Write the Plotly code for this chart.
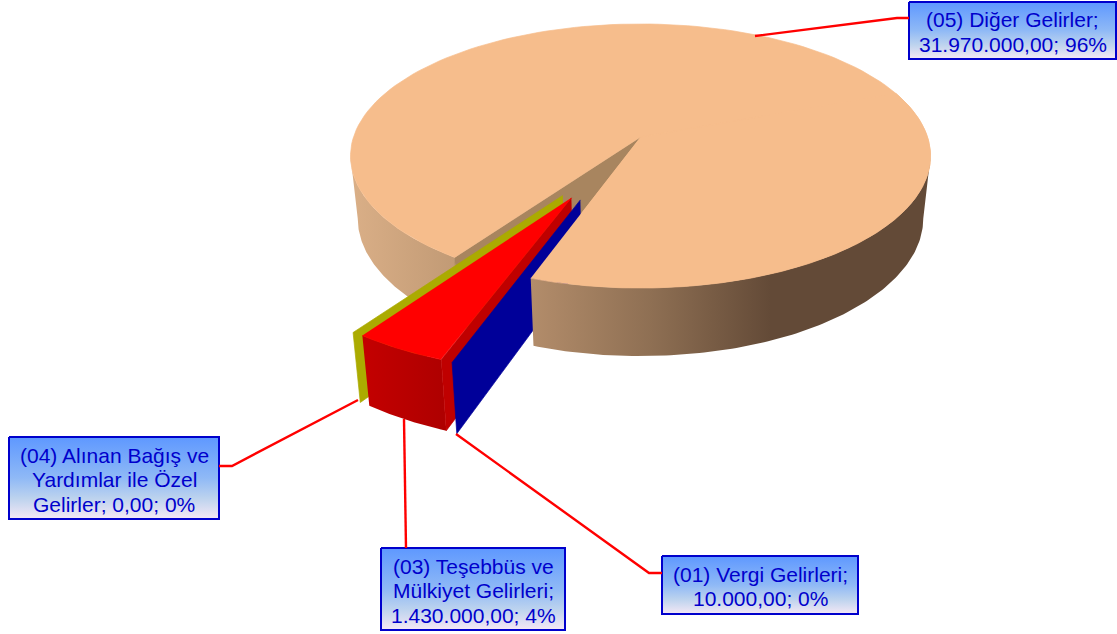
import numpy as np
import plotly.graph_objects as go

# Chart data
categories = ['(01) Vergi Gelirleri', '(03) Teşebbüs ve Mülkiyet Gelirleri',
              '(04) Alınan Bağış ve Yardımlar ile Özel Gelirler', '(05) Diğer Gelirler']
values = [10000.00, 1430000.00, 0.00, 31970000.00]
labels = [['(01) Vergi Gelirleri;', '10.000,00; 0%'],
          ['(03) Teşebbüs ve', 'Mülkiyet Gelirleri;', '1.430.000,00; 4%'],
          ['(04) Alınan Bağış ve', 'Yardımlar ile Özel', 'Gelirler; 0,00; 0%'],
          ['(05) Diğer Gelirler;', '31.970.000,00; 96%']]

# Perspective of the pie (pixels)
CX, CY, RX, RY, K, DEPTH, SHRINK = 640.5, 137, 287, 129.3, 0.144, 61.5, 0.975
START = 19.3
EXPLODE = 0.495
PULLED_R = 0.995
TANGENT = 81.7  # angle where the rim turns away from the viewer

TOP = '#F6BD8C'
GAP = '#A8855F'


def project(x, y, bottom=False):
    w = 1 - K * y
    if bottom:
        return CX + SHRINK * RX * x / w, CY + (SHRINK * RY * y + DEPTH) / w
    return CX + RX * x / w, CY + RY * y / w


def world(theta, ox=0.0, oy=0.0, r=1.0):
    t = np.radians(theta)
    return ox - r * np.sin(t), oy + r * np.cos(t)


def top_face(a, b, ox=0.0, oy=0.0, r=1.0):
    wx, wy = world(np.linspace(a, b, 160), ox, oy, r)
    return project(np.r_[ox, wx], np.r_[oy, wy])


def side_wall(theta, ox=0.0, oy=0.0, r=1.0):
    wx, wy = world(np.array([theta]), ox, oy, r)
    wx, wy = np.r_[ox, wx[0]], np.r_[oy, wy[0]]
    tx, ty = project(wx, wy)
    bx, by = project(wx, wy, bottom=True)
    return np.r_[tx, bx[::-1]], np.r_[ty, by[::-1]]


def outer_wall(a, b, ox=0.0, oy=0.0, r=1.0):
    wx, wy = world(np.linspace(a, b, 120), ox, oy, r)
    tx, ty = project(wx, wy)
    bx, by = project(wx, wy, bottom=True)
    return np.r_[tx, bx[::-1]], np.r_[ty, by[::-1]]


def poly(xy, color=None, gradient=None):
    if gradient:
        return go.Scatter(x=xy[0], y=xy[1], mode='lines', fill='toself', line=dict(width=0),
                          fillgradient=gradient, hoverinfo='skip', showlegend=False)
    return go.Scatter(x=xy[0], y=xy[1], mode='lines', fill='toself', fillcolor=color,
                      line=dict(color=color, width=0.7), hoverinfo='skip', showlegend=False)


def hgrad(x0, x1, stops):
    return dict(type='horizontal', start=x0, stop=x1, colorscale=stops)


# Slice angles
total = sum(values)
edges = START + np.r_[0, np.cumsum(values)] / total * 360
mid = (edges[1] + edges[2]) / 2
# thin slices are pulled out a little to each side of the red one
shift = [-3.8, 0, 3.8]
offsets = [world(np.array([mid + s])) for s in shift]
offsets = [(EXPLODE * (o[0][0]), EXPLODE * (o[1][0])) for o in offsets]

a5, b5 = edges[3], edges[4]
traces = [
    # body of the big slice, left part and the cut face
    poly(outer_wall(a5, TANGENT), gradient=hgrad(351, 456, [[0, '#DAAF87'], [1, '#C19A75']])),
    poly(side_wall(a5), GAP),
    poly(top_face(a5, b5), TOP),
]

# olive wall
ox, oy = offsets[2]
traces.append(poly(side_wall(edges[2], ox, oy, PULLED_R), '#ABAB00'))

# red slice
ox, oy = offsets[1]
a, b = edges[1], edges[2]
traces.append(poly(outer_wall(a, b, ox, oy, PULLED_R),
                   gradient=hgrad(361, 445, [[0, '#C40000'], [1, '#AE0000']])))
traces.append(poly(side_wall(a, ox, oy, PULLED_R), '#BF0000'))
traces.append(poly(top_face(a, b, ox, oy, PULLED_R), '#FF0000'))

# blue wall
ox, oy = offsets[0]
traces.append(poly(side_wall(edges[0], ox, oy, PULLED_R), '#000099'))

# right part of the big slice goes in front of the exploded ones
traces.append(poly(outer_wall(360 - TANGENT, b5),
                   gradient=hgrad(533, 930, [[0, '#B28C6A'], [0.3, '#8E6F53'],
                                             [0.6, '#634A37'], [1, '#634A37']])))
traces.append(poly(top_face(b5 - 130, b5), TOP))

# Label boxes: x0, x1, y0, y1
boxes = [(662, 858, 556, 614), (381, 565, 548, 630), (9, 219, 437, 519), (909, 1116, 2, 59)]
leaders = ['M 456 434 L 649 573 L 662 573', 'M 404 419 L 406 548',
           'M 358 400 L 232 466 L 219 466', 'M 755 36 L 897 18 L 909 18']
LINE_PITCH = 24.5

annotations = []
shapes = [dict(type='path', path=p, line=dict(color='#FF0000', width=2.4), layer='above') for p in leaders]
box_grad = [[0, '#5E98FF'], [0.5, '#8FB9F6'], [0.75, '#BDD3EE'], [1, '#F5E8F5']]
for (x0, x1, y0, y1), lines in zip(boxes, labels):
    traces.append(go.Scatter(x=[x0, x1, x1, x0, x0], y=[y0, y0, y1, y1, y0], mode='lines', fill='toself',
                             line=dict(color='#0000CC', width=2), hoverinfo='skip', showlegend=False,
                             fillgradient=dict(type='vertical', start=y1, stop=y0,
                                               colorscale=[[1 - s, c] for s, c in box_grad][::-1])))
    for i, line in enumerate(lines):
        yc = (y0 + y1) / 2 + 1.5 + (i - (len(lines) - 1) / 2) * LINE_PITCH
        annotations.append(dict(x=(x0 + x1) / 2, y=yc, xref='x', yref='y', text=line, showarrow=False,
                                font=dict(family='Liberation Sans, Arial', size=21, color='#0000CC')))

layout = go.Layout(width=1117, height=634, margin=dict(l=0, r=0, t=0, b=0), showlegend=False,
                   paper_bgcolor='white', plot_bgcolor='white',
                   xaxis=dict(range=[0, 1117], visible=False, fixedrange=True),
                   yaxis=dict(range=[634, 0], visible=False, fixedrange=True),
                   shapes=shapes, annotations=annotations)

fig = go.Figure(data=traces, layout=layout)
fig.write_html("out.html", config={'displayModeBar': False}, post_script="document.body.style.margin='0';")
